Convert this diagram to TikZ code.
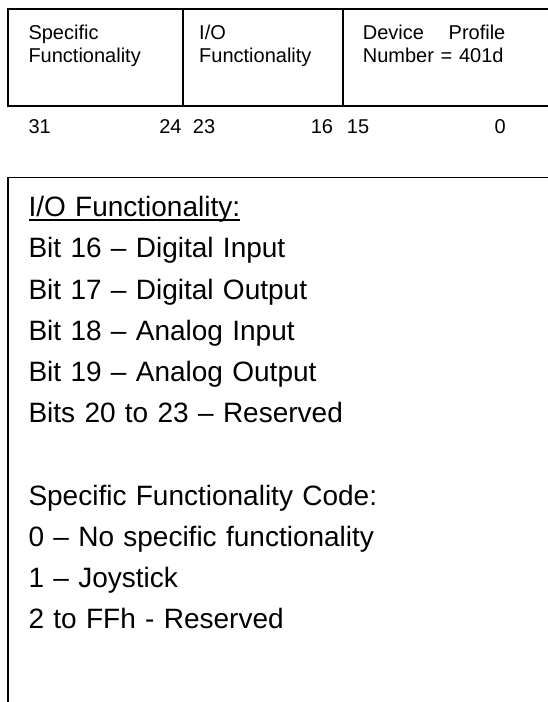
\documentclass[tikz,border=0pt]{standalone}
\usepackage{fontspec}
\setmainfont{Liberation Sans}
\newcommand\myul[1]{\setbox0\hbox{#1}\rlap{\rule[-4.3pt]{\wd0}{2pt}}\box0}
\begin{document}
\begin{tikzpicture}[x=1pt,y=-1pt,
  cell/.style={draw=black,line width=1.3pt,anchor=north west,inner sep=0pt,outer sep=0pt,minimum height=97pt},
  celltext/.style={anchor=base west,inner sep=0pt,text width=#1,align=left,font=\fontsize{20}{23}\selectfont},
  bitl/.style={anchor=base west,inner sep=0pt,font=\fontsize{20}{23}\selectfont},
  bitr/.style={anchor=base east,inner sep=0pt,font=\fontsize{20}{23}\selectfont},
  infobox/.style={draw=black,line width=1.9pt,anchor=north west,inner sep=0pt,outer sep=0pt,minimum width=600pt,minimum height=600pt},
  infotext/.style={anchor=base west,inner sep=0pt,text width=500pt,align=left,font=\fontsize{28}{41.2}\selectfont}]
\useasboundingbox (0,0) rectangle (547,702);
% register cells
\node[cell,minimum width=175pt] (c1) at (8,9) {};
\node[cell,minimum width=160pt] (c2) at (183,9) {};
\node[cell,minimum width=230pt] (c3) at (343,9) {};
\node[celltext=150pt] (t1) at (28.3,39.5) {Specific\\Functionality};
\node[celltext=140pt] (t2) at (199,39.5) {I/O\\Functionality};
\node[celltext=142.5pt] (t3) at (362.7,39.5) {Device\hfill Profile\\Number = 401d};
% bit numbers
\node[bitl] (b31) at (28.3,133.3) {31};
\node[bitr] (b24) at (181.7,133.3) {24};
\node[bitl] (b23) at (192.7,133.3) {23};
\node[bitr] (b16) at (333.3,133.3) {16};
\node[bitl] (b15) at (346.7,133.3) {15};
\node[bitr] (b0) at (506,133.3) {0};
% description box
\node[infobox] (box) at (8,177.5) {};
\node[infotext] (info) at (28.3,216.7) {\myul{I/O Functionality:}\\
Bit 16 – Digital Input\\
Bit 17 – Digital Output\\
Bit 18 – Analog Input\\
Bit 19 – Analog Output\\
Bits 20 to 23 – Reserved\\[41.2pt]
Specific Functionality Code:\\
0 – No specific functionality\\
1 – Joystick\\
2 to FFh - Reserved};
\end{tikzpicture}
\end{document}
